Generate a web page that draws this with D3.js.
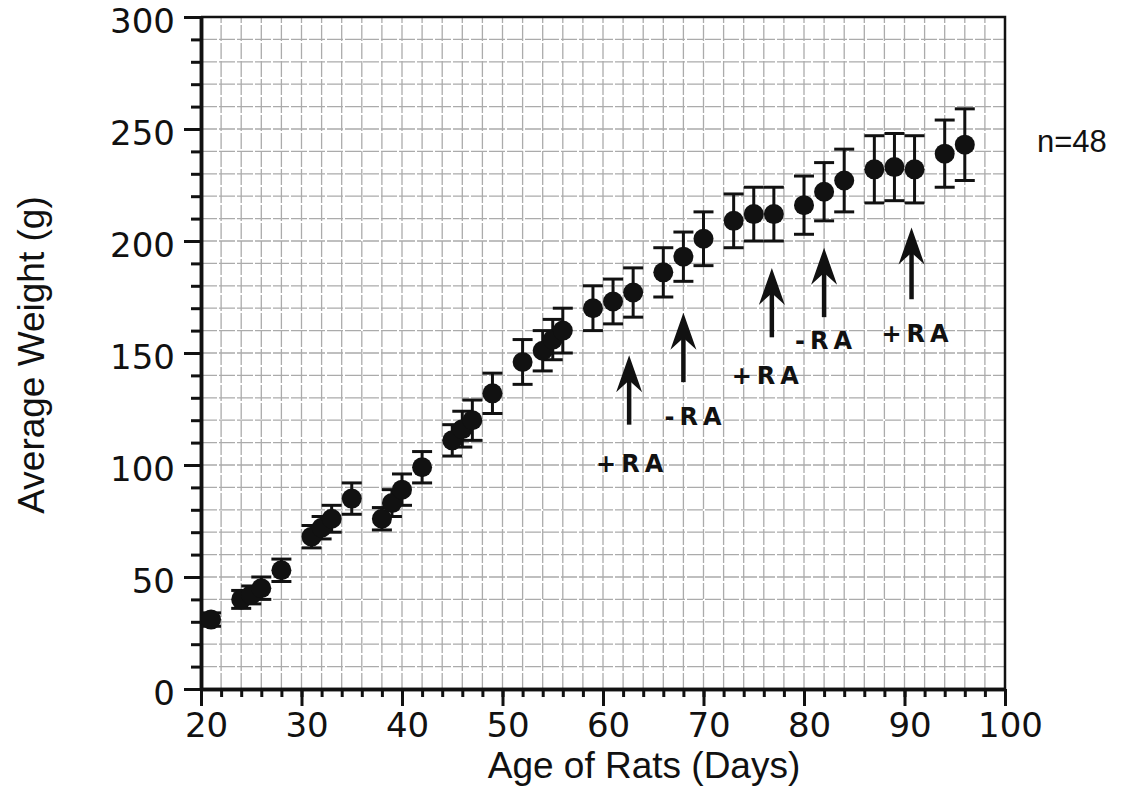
<!DOCTYPE html>
<style>
body {
	margin: 0;
	background: #fff;
}

.grid line {
	stroke: #ababab;
	stroke-width: 1.3;
	stroke-dasharray: 16, 2;
}

.frame {
	stroke: #111;
	fill: none;
}

.axis path,
.axis line {
	stroke: #111;
	stroke-width: 3;
}

.axis text {
	font-family: "DejaVu Sans", sans-serif;
	font-size: 34px;
	fill: #111;
}

.title {
	font-family: "Liberation Sans", Arial, sans-serif;
	font-size: 37px;
	fill: #111;
}

.errbar {
	stroke: #111;
	stroke-width: 3;
}

.dot {
	fill: #111;
}

.arrow-shaft {
	stroke: #111;
	stroke-width: 4.5;
}

.arrow-head {
	fill: #111;
}

.ra {
	font-family: "DejaVu Sans", sans-serif;
	font-weight: bold;
	font-size: 24px;
	letter-spacing: 5px;
	fill: #111;
}
</style>

<body></body>

<script src="https://d3js.org/d3.v7.min.js"></script>
<script>
	// ages (days)
	var days = [21, 24, 25, 26, 28, 31, 32, 33, 35, 38, 39, 40, 42, 45, 46, 47, 49,
				52, 54, 55, 56, 59, 61, 63, 66, 68, 70, 73, 75, 77, 80, 82, 84, 87,
				89, 91, 94, 96];
	// mean weights (g)
	var weights = [31, 40, 42, 45, 53, 68, 72, 76, 85, 76, 83, 89, 99, 111, 116, 120, 132,
				146, 151, 156, 160, 170, 173, 177, 186, 193, 201, 209, 212, 212, 216, 222, 227, 232,
				233, 232, 239, 243];
	// error bar half-heights (g)
	var errors = [3, 4, 4, 5, 5, 5, 5, 6, 7, 5, 6, 7, 7, 7, 8, 9, 9,
				10, 9, 9, 10, 10, 10, 11, 11, 11, 12, 12, 12, 12, 13, 13, 14, 15,
				15, 15, 15, 16];

	// RA treatment arrows: day, tip / tail weight, label and label spot
	var arrowDays = [62.6, 68, 76.8, 82, 90.7];
	var arrowTips = [149, 168, 188, 197, 206];
	var arrowTails = [118, 137, 157, 166, 174];
	var arrowLabels = ["+RA", "-RA", "+RA", "-RA", "+RA"];
	var labelDays = [62.9, 69.2, 76.4, 82.2, 91.3];
	var labelWeights = [97, 118, 136, 152, 155];

	var xMajor = d3.range(20, 101, 10);
	var xMinor = d3.range(20, 101, 2);
	var yMajor = d3.range(0, 301, 50);
	var yMinor = d3.range(0, 301, 10);

	var width = 1125,
		height = 793;

	var svg = d3.select("body").append("svg")
		.attr("width", width)
		.attr("height", height);

	var x = d3.scaleLinear().domain([20, 100]).range([201, 1005]);
	var y = d3.scaleLinear().domain([0, 300]).range([689, 17]);

	// graph paper grid
	var grid = svg.append("g").attr("class", "grid");
	grid.selectAll(".v")
		.data(xMinor.slice(1, -1))
		.enter().append("line")
		.attr("x1", function(d) { return x(d); })
		.attr("x2", function(d) { return x(d); })
		.attr("y1", y(0))
		.attr("y2", y(300));
	grid.selectAll(".h")
		.data(yMinor.slice(1, -1))
		.enter().append("line")
		.attr("x1", x(20))
		.attr("x2", x(100))
		.attr("y1", function(d) { return y(d); })
		.attr("y2", function(d) { return y(d); });

	// top and right border
	svg.append("path")
		.attr("class", "frame")
		.attr("stroke-width", 2.5)
		.attr("d", "M" + x(20) + "," + y(300) + "H" + x(100) + "V" + y(0));

	// axes: minor ticks first, then major ticks with labels
	svg.append("g")
		.attr("class", "axis")
		.attr("transform", "translate(" + x(20) + ",0)")
		.call(d3.axisLeft(y).tickValues(yMinor).tickSize(10).tickSizeOuter(0).tickFormat(""));
	svg.append("g")
		.attr("class", "axis")
		.attr("transform", "translate(" + x(20) + ",0)")
		.call(d3.axisLeft(y).tickValues(yMajor).tickSize(17).tickSizeOuter(0).tickPadding(9))
		.selectAll("text").attr("dy", "0.47em");

	svg.append("g")
		.attr("class", "axis")
		.attr("transform", "translate(0," + y(0) + ")")
		.call(d3.axisBottom(x).tickValues(xMinor).tickSize(8).tickSizeOuter(0).tickFormat(""));
	svg.append("g")
		.attr("class", "axis")
		.attr("transform", "translate(0," + y(0) + ")")
		.call(d3.axisBottom(x).tickValues(xMajor).tickSize(17).tickSizeOuter(0).tickPadding(7))
		.selectAll("text").attr("dx", 5);

	svg.selectAll(".axis path").style("stroke-width", 3.5);

	// axis titles
	svg.append("text")
		.attr("class", "title")
		.attr("text-anchor", "middle")
		.attr("x", 644)
		.attr("y", 778)
		.text("Age of Rats (Days)");
	svg.append("text")
		.attr("class", "title")
		.attr("text-anchor", "middle")
		.attr("transform", "translate(44," + 355 + ") rotate(-90)")
		.text("Average Weight (g)");

	svg.append("text")
		.attr("class", "title")
		.style("font-size", "31px")
		.attr("x", 1037)
		.attr("y", 152)
		.text("n=48");

	// error bars and points
	var pts = days.map(function(d, i) {
		return {day: d, w: weights[i], e: errors[i]};
	});

	var bars = svg.append("g");
	bars.selectAll(".stem")
		.data(pts)
		.enter().append("line")
		.attr("class", "errbar")
		.attr("x1", function(d) { return x(d.day); })
		.attr("x2", function(d) { return x(d.day); })
		.attr("y1", function(d) { return y(d.w - d.e); })
		.attr("y2", function(d) { return y(d.w + d.e); });
	[-1, 1].forEach(function(s) {
		bars.selectAll(".cap" + s)
			.data(pts)
			.enter().append("line")
			.attr("class", "errbar")
			.attr("x1", function(d) { return x(d.day) - 10; })
			.attr("x2", function(d) { return x(d.day) + 10; })
			.attr("y1", function(d) { return y(d.w + s * d.e); })
			.attr("y2", function(d) { return y(d.w + s * d.e); });
	});

	svg.append("g").selectAll("circle")
		.data(pts)
		.enter().append("circle")
		.attr("class", "dot")
		.attr("cx", function(d) { return x(d.day); })
		.attr("cy", function(d) { return y(d.w); })
		.attr("r", 10);

	// RA arrows
	var arrows = arrowDays.map(function(d, i) {
		return {day: d, tip: arrowTips[i], tail: arrowTails[i], label: arrowLabels[i],
				lx: labelDays[i], ly: labelWeights[i]};
	});

	var ag = svg.append("g");
	ag.selectAll("line")
		.data(arrows)
		.enter().append("line")
		.attr("class", "arrow-shaft")
		.attr("x1", function(d) { return x(d.day); })
		.attr("x2", function(d) { return x(d.day); })
		.attr("y1", function(d) { return y(d.tail); })
		.attr("y2", function(d) { return y(d.tip) + 20; });
	ag.selectAll("path")
		.data(arrows)
		.enter().append("path")
		.attr("class", "arrow-head")
		.attr("transform", function(d) { return "translate(" + x(d.day) + "," + y(d.tip) + ")"; })
		.attr("d", "M0,0L13,37L2,27L-2,27L-13,37Z");
	ag.selectAll("text")
		.data(arrows)
		.enter().append("text")
		.attr("class", "ra")
		.attr("text-anchor", "middle")
		.attr("x", function(d) { return x(d.lx); })
		.attr("y", function(d) { return y(d.ly); })
		.text(function(d) { return d.label; });
</script>
